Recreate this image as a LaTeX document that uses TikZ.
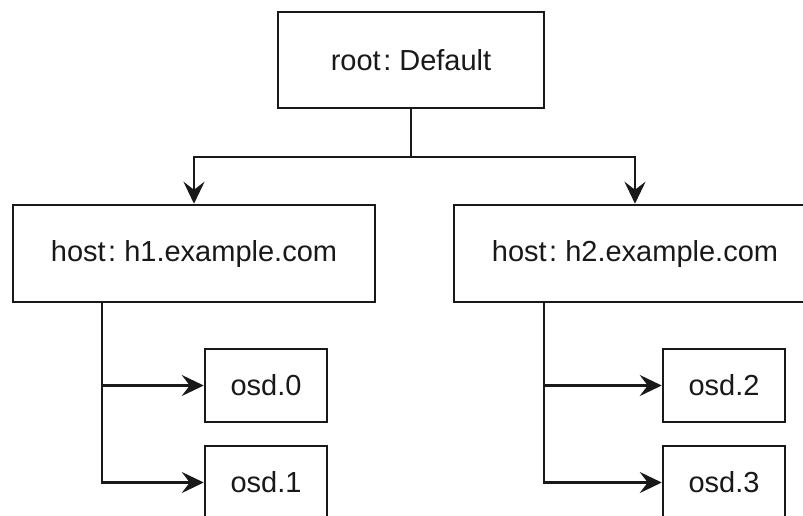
\documentclass[tikz,border=0pt]{standalone}
\usepackage{fontspec}
\setmainfont{Liberation Sans}
\usetikzlibrary{arrows.meta}
\newcommand{\colsep}{\hspace{2.5pt}:\hspace{8pt}}
\begin{document}
\begin{tikzpicture}[x=1pt,y=-1pt,
  box/.style={draw=black!90, line width=2.5pt, fill=white, inner sep=0pt,
    font=\fontsize{29}{34}\selectfont, text=black!90},
  conn/.style={draw=black!90, line width=2.4pt,
    -{Stealth[length=22pt,width=21pt,inset=8pt]}}
]
\useasboundingbox (0,0) rectangle (803,515);
\clip (0,0) rectangle (803,515);
\fill[white] (0,0) rectangle (803,515);
\node[box, minimum width=266pt, minimum height=96pt] (root) at (411,60) {root\colsep Default};
\node[box, minimum width=362pt, minimum height=97pt] (h1) at (194,253.5) {host\colsep h1.example.com};
\node[box, minimum width=362pt, minimum height=97pt] (h2) at (635,253.5) {host\colsep h2.example.com};
\node[box, minimum width=122pt, minimum height=73pt] (o0) at (266,385.5) {osd.0};
\node[box, minimum width=122pt, minimum height=73pt] (o1) at (266,482.5) {osd.1};
\node[box, minimum width=122pt, minimum height=73pt] (o2) at (724,385.5) {osd.2};
\node[box, minimum width=122pt, minimum height=73pt] (o3) at (724,482.5) {osd.3};
\coordinate (j) at (411,157);
\coordinate (b1) at ([xshift=90pt]h1.south west);
\coordinate (b2) at ([xshift=91pt]h2.south west);
\draw[conn] (root.south) -- (j) -| (h1);
\draw[conn] (j) -| (h2);
\draw[conn] (b1) |- (o0);
\draw[conn] (b1) |- (o1);
\draw[conn] (b2) |- (o2);
\draw[conn] (b2) |- (o3);
\end{tikzpicture}
\end{document}
